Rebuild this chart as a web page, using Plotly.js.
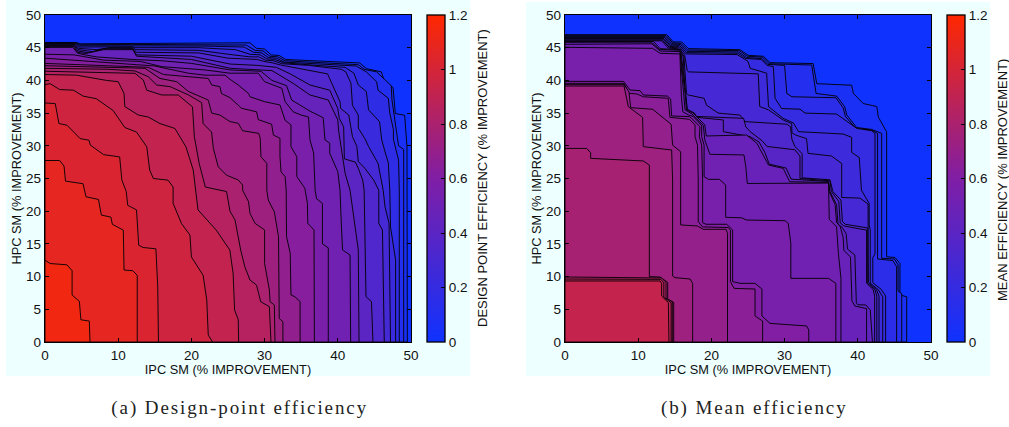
<!DOCTYPE html>
<html><head><meta charset="utf-8">
<script src="https://cdn.plot.ly/plotly-3.0.1.min.js"></script>
<style>html,body{margin:0;padding:0;background:#fff}#c{width:1009px;height:427px}.annotation[data-index="0"] .annotation-text,.annotation[data-index="1"] .annotation-text{letter-spacing:1.9px}</style>
</head><body><div id="c"></div>
<script>
// Contour lines: flat lists x,y in axis units, running from the left axis to the bottom axis.
const outerRegion=[0,50,50,50,50,0];
const a01=[0,45.8,4.3,45.8,4.8,45.6,28,45.75,28.9,44.9,30,44.8,30.9,43.9,32,43.8,32.9,43.2,43,42.67,43.9,41.8,45.95,41.3,46.4,39.77,47.55,38.9,47.86,34.93,49.14,34.67,49.45,29.84,49.5,0];
const a02=[0,45.72,4.25,45.72,4.75,45.45,12,45.5,27.5,45.4,28.7,44.6,29.8,44.5,30.7,43.7,31.8,43.6,32.8,43,42.8,42.4,43.6,41.7,45.3,41.3,46.7,39.8,47.3,39.2,47.4,37,47.8,34.2,48.3,30,49,29.46,49,0];
const a03=[0,45.65,4.2,45.65,4.7,45.3,12,45.3,22,45.25,27.2,45.1,28.5,44.3,29.6,44.2,30.5,43.5,31.6,43.4,32.7,42.8,42.5,42.2,43.9,41.3,45.3,39.8,45.5,38.5,46.9,37.26,47.1,35,47.6,32.5,47.6,31,48.3,27.8,48.4,23.2,48.4,0];
const a04=[0,45.55,4.15,45.55,4.65,45.1,12,45.15,12.3,45,21,45,26,44.7,28,44,29.4,43.9,30.3,43.3,31.4,43.2,32.6,42.7,37,42.3,41,42,42.2,41.1,42.8,39.3,43.9,38.3,44.2,35.5,45.7,33.7,46,30.9,46.5,28.9,46.9,27.4,47.1,23.2,47.2,17.6,47.9,12.5,47.9,0];
const a05=[0,45.45,4.1,45.45,4.6,44.9,7,44.7,9,45,12,45,12.4,44.7,21,44.6,25,44,28,43.6,29.2,43.6,30.1,43.1,31.2,43,32.4,42.55,36,42.3,40.5,41.7,41.1,41.3,41.8,39.55,42,36.2,42.8,34.7,42.8,32.7,43.7,31.1,44.2,29.9,45.5,27.3,46.2,23.2,46.45,20.7,47,18.14,47.2,0];
const a06=[0,45.35,4.05,45.35,4.55,44.7,6.5,44.4,8.5,44.95,12,44.9,12.5,44.3,21,44.2,25,43.4,28,43.2,29,43.2,29.9,42.9,31,42.7,32.2,42.35,36,41.5,38.6,41,39.2,39.5,40.3,36.75,40.4,35.7,41.5,34.7,42,31.4,42.6,29.9,42.8,27.6,43.7,26.55,44.9,24.77,45.6,23.2,45.6,18.14,46.1,17.13,46.35,0];
const a07=[0,45.25,4,45.25,4.5,44.5,6,44.2,8.2,44.85,12,44.8,12.5,43.9,20,43.7,25.3,42.5,29,42.3,31.6,42,33.5,41,36.2,39.3,38.9,38.5,40,35.7,40.2,34.2,40.8,32.9,40.9,28,42.4,27.5,42.8,26.55,43.4,24.77,43.6,23.2,43.85,6.93,44.6,6.17,44.8,0];
const a08=[0,45.15,3.9,45.15,4.45,44.3,5.5,44.1,8,44.7,12,44.7,12.5,43.7,20,43.2,25.3,41.85,28,41.7,31,41.5,33.9,39.55,36.2,37.77,38.7,37,40,33.95,40.1,32.4,40.75,28.08,41,25.8,41.67,23.2,42.1,19.67,42.8,14.07,42.9,0];
const a09=[0,45.05,3.8,45.05,4.4,44.2,5,44,7,43.6,12,43.2,16,43,20,42.6,25.3,41.6,29.5,41.4,31,40,33,39.2,33.7,37,36.2,35.3,38,34.3,38.25,30.9,38.9,30.4,38.9,28.85,40,26.05,40.3,23.2,40.5,17.6,40.65,14.07,41.67,13.3,41.76,0];
const a10=[0,44,4,43.9,8,43.1,13,42.9,16,42.1,21.86,41.6,25.27,41.1,29.14,41.1,30,39.8,32.35,38.8,32.8,36.75,33.9,35.2,35,34.7,36,34.4,36.2,30.9,36.7,28.9,36.9,23.2,37.1,21.9,37.9,21.2,37.9,15,38.7,14.4,38.7,0];
const a11=[0,43.4,8,42.7,15,42.2,16.4,41.85,19.6,41.1,21.86,40.8,24.6,40.8,25.27,40.16,26.4,39.3,27.8,38,28,37.5,30,36.75,32.1,36.24,32.8,33.9,33.6,33.2,33.6,29.87,34.4,28.34,34.4,25.3,35.5,23.5,35.85,21.2,35.9,18.14,36.75,17.13,36.8,0];
const a12=[0,42.6,8,42.3,14.1,42,16.2,40.9,19.1,40.57,22.3,40.3,22.77,39.3,23.9,39.04,24.1,38,25.27,37.36,26.87,35.73,28.9,35.2,29.14,34,30.96,33.3,31.2,31.65,32.1,31.14,32.1,28.34,32.25,26,32.8,25.3,32.95,23.2,33,16.1,33.5,13.56,33.6,7.2,34.15,6.9,34.85,6.17,34.85,0];
const a13=[0,42.25,8,42,13.66,41.85,15.7,40.3,18,39.8,19.6,38.3,22.3,37,22.77,35,23.9,34.7,25.27,33.7,26.4,33.44,27,32.3,29.2,31.9,29.4,31.14,29.5,28.34,30.3,27.3,30.3,23.2,30.5,21.7,31.33,19.9,31.9,16.1,32,3.6,32.5,3.1,32.5,0];
const a14=[0,41.85,8.65,41.7,12.3,41.44,14.1,40.57,15.25,39.3,17.1,39.04,19.6,37.77,21.4,36.6,21.6,33.4,22.75,32.1,23,29.6,23.66,26.8,24.8,25.5,26.4,24.77,27,24,27,23.2,27.8,21.46,28,19.67,28.7,18.14,30,17.13,30,12,30.65,7.95,30.74,6.17,31.33,5.66,31.42,0];
const a15=[0,41.4,8.65,41.2,12.3,41.08,13.43,40.06,13.9,38.5,15.94,37.77,18.2,37.77,20.15,35.95,20.4,31.4,21.06,27.3,21.9,23.7,24.8,23,25.27,20,25.96,18.65,26.73,14.07,27.3,11.5,28,9.48,28.9,8.7,29.46,6.17,30.65,5.4,30.8,2.85,30.87,0];
const a16=[0,40.9,4.3,40.8,8.4,40,10,39.8,10.8,38,10.9,36,12.75,34.7,14.1,34.4,15.7,33.4,17.75,32.65,19.25,29.85,20.25,26.3,20.9,20.2,23.4,17.1,25.25,14.05,25.7,10.5,25.9,4.9,26.4,3.4,26.45,0];
const a17=[0,39.35,0.7,39.5,2,38.6,3.9,38.5,5.2,37.6,7,37.2,9.3,35.4,10.9,32.8,12.5,32.1,13.9,29.85,14.3,26.3,14.8,25,16.8,24.75,17.5,23.7,17.5,21.2,18.65,18.1,19.8,16.35,20,13,21.6,10.2,22.1,6.4,22.3,1.05,22.9,0];
const a18=[0,36.55,1.4,36.45,1.9,33.4,3,33.15,4.8,31.1,6,30.85,6.2,30.1,8,28.65,10.2,28.3,10.5,24.75,11.1,23,11.3,20.9,12.5,20.2,12.8,14.8,13.4,14.45,15.15,14.25,15.4,8.45,15.5,0];
const a19=[0,27.75,2,27.75,2.6,26.9,2.8,24.6,5.2,24.2,5.6,22.2,7.3,21.8,7.7,19.4,9,19.1,9.2,18,10.7,17.1,10.8,11,12,10.9,12.6,10.2,12.6,0];
const a20=[0,12.5,0.7,12,3,11.8,3.7,10.9,3.7,7.2,4.7,6.2,4.9,3.4,6.05,3.2,6.15,0];

const b01=[0,47,13.9,47,14.8,45.88,15.94,45.88,16.85,44.86,23.9,44.7,25.05,43.84,27.1,43.69,28,42.72,33.9,42.57,34.4,39.5,39.16,39.26,39.4,38,40.75,36.46,42.6,36,42.8,34.4,43.94,32.13,43.94,13.03,45.08,12.93,45.76,12,45.76,7.18,46.68,6.92,46.68,0];
const b02=[0,46.85,13.8,46.85,14.7,45.75,15.85,45.65,16.75,44.65,23.8,44.55,24.9,43.7,27,43.55,27.9,42.55,33.7,42.35,34.3,38,37.1,37.6,38.2,36,38.5,34.7,39.85,32.8,41.9,32.5,43.26,31.9,43.26,12.8,45,12.7,45.5,11.8,45.5,7.8,46,7.4,46,0];
const b03=[0,46.7,13.7,46.7,14.6,45.6,15.75,45.5,16.65,44.45,23.7,44.35,24.8,43.5,26.9,43.35,27.7,42.45,30,42.3,30.3,38,31,37.5,37,37.35,38,35.8,38.3,34.5,39.7,32.7,41.9,32.4,42.7,31.9,42.7,12.7,44.8,12.44,45.3,11.5,45.3,0];
const b04=[0,46.55,13.6,46.55,14.5,45.45,15.65,45.35,16.55,44.25,23.6,44.15,24.7,43.35,26.8,43.2,27.6,42.3,28.46,42.1,28.7,37.26,29.6,35.7,32.1,35.6,32.8,35,37.1,34.86,38.5,33.7,39.85,32.67,41.9,32.3,42.35,31.9,42.35,13.5,42.05,12.9,42.05,9.07,43.2,8.05,43.8,7.03,43.8,0];
const b05=[0,46.4,13.5,46.4,14.4,45.3,15.55,45.2,16.45,44.05,23.5,43.95,24.6,43.2,25,42.9,25.3,41.85,27.55,41.1,27.8,36,29.8,34.2,31.2,33.5,31.9,32.16,38,31.8,39.16,31.3,39.16,29,40.2,28.2,40.5,23.2,41.55,21.2,41.55,17.9,41.7,17.2,41.7,9,42.8,8,43.4,6.9,43.4,0];
const b06=[0,46.3,13.4,46.3,14.3,45.2,15.45,45.05,16.35,43.85,16.7,41.5,16.9,41.3,23.9,41,26.4,41,26.6,36,27.8,35.5,29.8,33.95,30.97,33.4,31,32,31.5,31.65,33,31.1,33.2,28.85,36.4,28.44,37.8,27.3,37.8,22.1,40.3,22,41.4,21.1,41.4,17.9,41.45,9.1,42.55,8,42.9,7,42.9,0];
const b07=[0,46.15,13.3,46.15,14.2,45.1,15.35,44.95,16.25,43.7,16.6,38,16.85,37.77,19,37.26,19.35,36.2,20.95,35,23.9,34.7,24.6,33.7,30.3,33.3,30.8,32.9,31,31,31.4,29.9,32.4,28.8,32.4,25.1,36.2,24.8,36.6,23,37.7,21.7,37.9,18.4,38.3,18,41.3,17.45,41.3,9,42.35,8,42.6,7,42.6,0];
const b08=[0,46.05,13.2,46.05,14.1,44.95,15.25,44.85,16.15,43.6,16.4,38,16.7,35.5,17.8,34.5,24.4,34.2,24.7,32.9,25.3,32.16,26.9,30.8,27.6,29.9,31.4,29.4,32.1,28.4,32.1,25,36.2,24.65,36.4,23,37.4,21.5,37.6,18.2,38.1,17.75,41.2,17.1,41.2,9,42.1,8,42.3,7,42.3,0];
const b09=[0,45.95,12.1,45.95,13,44.85,15.8,44.7,16.5,38,16.7,35.6,17.7,35,18,34.35,21.63,33.95,21.63,32.16,25.27,31.4,26.5,30.6,27.3,29,27.9,27.2,30.2,26.6,30.9,24.9,36,24.55,36.2,23,37.1,21,37.3,18,37.8,17.6,38.4,16.6,38.6,14.2,39.6,13.3,39.8,6,40,5.7,41.1,5.66,41.7,4.9,42,0];
const b10=[0,45.82,11.8,45.85,12.9,44.75,15.7,44.6,16.4,38,16.6,35.5,17.5,35,19.1,33.2,19.3,31.5,24.8,31.65,26.2,30.4,27.3,28.2,27.8,27.06,29.8,26.55,30.5,25.03,30.7,24.5,36,24.4,36.1,23,36.9,21,37.1,18.3,37.6,17.63,38,16,38.1,14,39,13,39.2,6.3,39.6,5.5,41.2,5.1,41.2,0];
const b11=[0,45.52,11.86,45.6,12.98,44.5,15.7,44.4,16.2,38,16.4,35.5,17.3,34.9,18.9,33.1,19.1,30.9,19.8,28.7,24.45,28.6,24.7,26.8,24.9,24.24,36,24.3,36.1,18.76,37.1,17.6,37.35,13.56,37.7,9.73,37.7,0];
const b12=[0,45.06,11.98,44.9,12.98,44.14,15.7,44.05,15.9,37.5,16.1,35.2,16.9,34.7,17.5,34.5,18.67,33.1,18.67,31.4,19,30.1,19,25.28,19.6,24.87,21.1,24.87,21.95,24,21.95,19.06,24.1,19,24.8,18.65,30.06,18.55,30.5,18.14,30.85,15.09,30.85,9.73,36,9.73,37,8.97,37,0];
const b13=[0,39.85,8,39.85,8.88,38.53,10.25,38.43,10.7,37.77,14,37.6,14.43,37.15,14.57,34.56,17,34.46,17.3,34.2,18.44,32.93,18.35,31.4,18.67,30.1,18.8,24.77,18.8,18.25,19.26,18,22.09,18,22.9,17.13,22.9,9.23,23.9,8.97,25.96,8.97,26.9,8.1,26.9,3.98,28,2.85,33,2.45,33.3,1.83,33.3,0];
const b14=[0,39.55,8.06,39.55,8.74,38.02,9.8,37.93,10.7,37.5,14.1,37.26,14.34,34.35,17,34.05,17.76,33.2,17.76,31.4,18.1,30.1,18.2,24.77,18.2,18.4,18.8,17.6,22.3,17.5,22.6,17.1,22.6,9.23,23.1,8.2,25.96,8.1,25.96,3.98,27,3.2,27,0];
const b15=[0,39.35,8.06,39.35,8.74,38.25,8.97,35.83,11.98,35.58,14.5,33.3,14.7,30.1,15.8,29.1,15.8,17.9,18.08,17.74,18.9,17.23,22,17.23,22.2,16.6,22.2,0];
const b16=[0,39.14,8.06,39.14,8.65,35.98,10.6,34.35,10.7,29.87,14.57,29.36,14.7,24.77,14.7,10.09,15.03,9.84,17.08,9.63,17.44,8.97,17.44,0];
const b17=[0,29.6,2.96,29.6,3.5,28.95,3.5,28.08,10.7,27.68,11.52,27.06,11.52,10,12.98,9.94,14.03,9.12,14.03,6.52,14.85,6.07,14.85,0];
const b18=[0,9.94,11.25,9.84,13.2,9.79,13.8,9.12,13.8,6.68,14.66,6.17,14.66,0];
const b19=[0,9.63,13.1,9.58,13.5,9.07,13.5,6.83,14.5,6.01,14.5,0];
const b20=[0,9.33,12.98,9.33,13.2,8.97,13.2,7.03,14.12,6.01,14.2,0];

const designCurves=[outerRegion,a01,a02,a03,a04,a05,a06,a07,a08,a09,a10,a11,a12,a13,a14,a15,a16,a17,a18,a19,a20];
const designLevels=[0,0.057,0.114,0.171,0.228,0.285,0.342,0.399,0.456,0.513,0.57,0.627,0.684,0.741,0.798,0.855,0.912,0.969,1.026,1.083,1.14];
const meanCurves=[outerRegion,b01,b02,b03,b04,b05,b06,b07,b08,b09,b10,b11,b12,b13,b14,b15,b16,b17,b18,b19,b20];
const meanLevels=[0,0.065,0.11,0.155,0.2,0.245,0.29,0.335,0.38,0.425,0.47,0.515,0.56,0.605,0.65,0.695,0.74,0.785,0.83,0.875,0.92];
const xTicks=[0,10,20,30,40,50];
const yTicks=[0,5,10,15,20,25,30,35,40,45,50];
const barTicks=[0,0.2,0.4,0.6,0.8,1,1.2];
const xTitle='IPC SM (% IMPROVEMENT)', yTitle='HPC SM (% IMPROVEMENT)';
const barTitleA='DESIGN POINT EFFICIENCY (% IMPROVEMENT)', barTitleB='MEAN EFFICIENCY (% IMPROVEMENT)';
const captionA='(a) Design-point efficiency', captionB='(b) Mean efficiency';

const BLUE=[15,50,255], MID=[128,30,165], RED=[255,40,0], ZMAX=1.2;
const rgb=c=>`rgb(${c.map(Math.round).join(',')})`;
const scale=[[0,rgb(BLUE)],[0.5,rgb(MID)],[1,rgb(RED)]];
function col(z){const t=z/ZMAX;const [p,q,u]=t<0.5?[BLUE,MID,t*2]:[MID,RED,t*2-1];return rgb(p.map((v,i)=>v+(q[i]-v)*u));}
const W=1009,H=427,FONT='Liberation Sans, Arial, sans-serif',SERIF='Liberation Serif, serif';
function fills(curves,levels,xa,ya){return curves.map((c,k)=>{const x=[],y=[];for(let i=0;i<c.length;i+=2){x.push(c[i]);y.push(c[i+1]);}
  x.push(0);y.push(0);x.push(c[0]);y.push(c[1]);
  return {type:'scatter',mode:'lines',x,y,xaxis:xa,yaxis:ya,fill:'toself',fillcolor:col(levels[k]),line:{color:k?'#000':'rgba(0,0,0,0)',width:0.9},hoverinfo:'skip',showlegend:false};});}
function bar(xa,ya,px){return {type:'scatter',mode:'markers',x:[0],y:[0],xaxis:xa,yaxis:ya,hoverinfo:'skip',showlegend:false,
  marker:{size:1,opacity:0,color:[0],cmin:0,cmax:ZMAX,colorscale:scale,showscale:true,colorbar:{
    x:px/W,xanchor:'left',xpad:0,ypad:0,y:(H-342)/H,yanchor:'bottom',lenmode:'pixels',len:327,thicknessmode:'pixels',thickness:18,
    outlinecolor:'#000',outlinewidth:1.3,tickmode:'array',tickvals:barTicks,ticktext:barTicks.map(String),ticks:'inside',ticklen:4,tickcolor:'#000',
    tickfont:{family:FONT,size:13.5,color:'#111'}}}};}
function ax(dom,anchor,ticks,title,standoff){return {domain:dom,anchor,range:[0,50],tickmode:'array',tickvals:ticks,ticks:'inside',ticklen:4,tickcolor:'#000',
  showline:true,linecolor:'#000',linewidth:1.3,mirror:'ticks',showgrid:false,zeroline:false,layer:'above traces',
  tickfont:{family:FONT,size:13.5,color:'#111'},title:{text:title,standoff,font:{family:FONT,size:12.8,color:'#111'}}};}
const caption=a=>({xref:'paper',yref:'paper',x:a[0]/W,y:1-a[1]/H,text:a[2],showarrow:false,xanchor:'center',yanchor:'middle',font:{family:SERIF,size:19,color:'#222'}});
const sideTitle=a=>({xref:'paper',yref:'paper',x:a[0]/W,y:1-a[1]/H,text:a[2],textangle:-90,showarrow:false,xanchor:'center',yanchor:'middle',font:{family:FONT,size:13,color:'#111'}});
const layout={width:W,height:H,margin:{l:0,r:0,t:0,b:0,autoexpand:false},paper_bgcolor:'#fff',plot_bgcolor:'rgba(0,0,0,0)',hovermode:false,showlegend:false,
  xaxis:ax([45/W,411/W],'y',xTicks,xTitle,0),yaxis:ax([(H-342)/H,(H-15)/H],'x',yTicks,yTitle,1),
  xaxis2:ax([565/W,931/W],'y2',xTicks,xTitle,0),yaxis2:ax([(H-342)/H,(H-15)/H],'x2',yTicks,yTitle,1),
  shapes:[[6,0,470,376],[526,2,990,376]].map(r=>({type:'rect',xref:'paper',yref:'paper',layer:'below',x0:r[0]/W,x1:r[2]/W,y0:1-r[1]/H,y1:1-r[3]/H,fillcolor:'#eeffff',line:{width:0}})),
  annotations:[caption([239.5,408,captionA]),caption([754,408,captionB]),sideTitle([482,178,barTitleA]),sideTitle([1002,180,barTitleB])]};
const data=[...fills(designCurves,designLevels,'x','y'),bar('x','y',427),...fills(meanCurves,meanLevels,'x2','y2'),bar('x2','y2',947)];
Plotly.newPlot('c',data,layout,{staticPlot:true,displayModeBar:false});
</script></body></html>
